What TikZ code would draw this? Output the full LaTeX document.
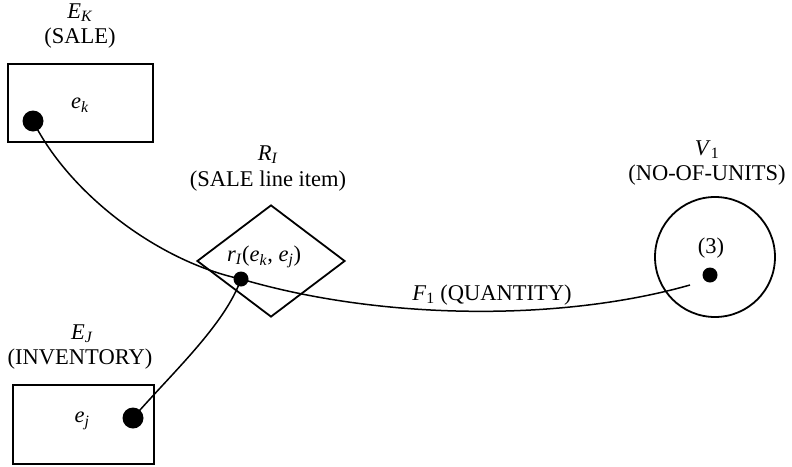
\documentclass[tikz,border=0pt]{standalone}
\usepackage{fontspec}
\setmainfont{Liberation Serif}
\usetikzlibrary{shapes.geometric}
\tikzset{
  shapeline/.style={draw=black, line width=1.8pt},
  entbox/.style={shapeline, rectangle, inner sep=0pt, anchor=north west},
  reldiamond/.style={shapeline, diamond, inner sep=0pt, minimum width=148pt, minimum height=112pt},
  valcircle/.style={shapeline, circle, inner sep=0pt, minimum size=120pt},
  bigdot/.style={circle, fill=black, inner sep=0pt, minimum size=21pt},
  smalldot/.style={circle, fill=black, inner sep=0pt, minimum size=15pt},
  lbl/.style={inner sep=0pt, font=\fontsize{22.5}{24}\selectfont},
  conn/.style={line width=1.5pt}
}
\begin{document}
\begin{tikzpicture}[x=1pt, y=-1pt]
\useasboundingbox (0,0) rectangle (792,466);
% entity boxes
\node[entbox, minimum width=145pt, minimum height=78pt] (boxK) at (7,63) {};
\node[entbox, minimum width=141pt, minimum height=79pt] (boxJ) at (12,384) {};
% relationship diamond and value circle
\node[reldiamond] (rel) at (271,261) {};
\node[valcircle] (val) at (715,257) {};
% labels
\node[lbl] (lEK) at (80,13) {\textit{E}\textsubscript{\textit{K}}};
\node[lbl] (lSale) at (80,38) {(SALE)};
\node[lbl] (lek) at (80,105) {\textit{e}\textsubscript{\textit{k}}};
\node[lbl] (lEJ) at (82,334) {\textit{E}\textsubscript{\textit{J}}};
\node[lbl] (lInv) at (80,359) {(INVENTORY)};
\node[lbl] (lej) at (82,421) {\textit{e}\textsubscript{\textit{j}}};
\node[lbl] (lRI) at (268,155) {\textit{R}\textsubscript{\textit{I}}};
\node[lbl] (lSli) at (268,181) {(SALE\ line\ item)};
\node[lbl] (lr) at (264,257) {\textit{r}\textsubscript{\textit{I}}(\textit{e}\textsubscript{\textit{k}}, \textit{e}\textsubscript{\textit{j}})};
\node[lbl] (lV) at (707,150) {\textit{V}\textsubscript{1}};
\node[lbl] (lNou) at (707,175) {(NO-OF-UNITS)};
\node[lbl] (l3) at (711,248) {(3)};
\node[lbl] (lF) at (492,295) {\textit{F}\textsubscript{1} (QUANTITY)};
% dots
\node[bigdot] (dk) at (33,121) {};
\node[bigdot] (dj) at (133,418) {};
\node[smalldot] (dr) at (241,279) {};
\node[smalldot] (dv) at (710,275) {};
\coordinate (fend) at (690,285);
% connectors
\draw[conn] (dk.center) .. controls (70,195) and (160,262) .. (dr.center)
                        .. controls (380,320) and (560,322) .. (fend);
\draw[conn] (dj.center) .. controls (170,375) and (225,325) .. (dr.center);
\end{tikzpicture}
\end{document}
